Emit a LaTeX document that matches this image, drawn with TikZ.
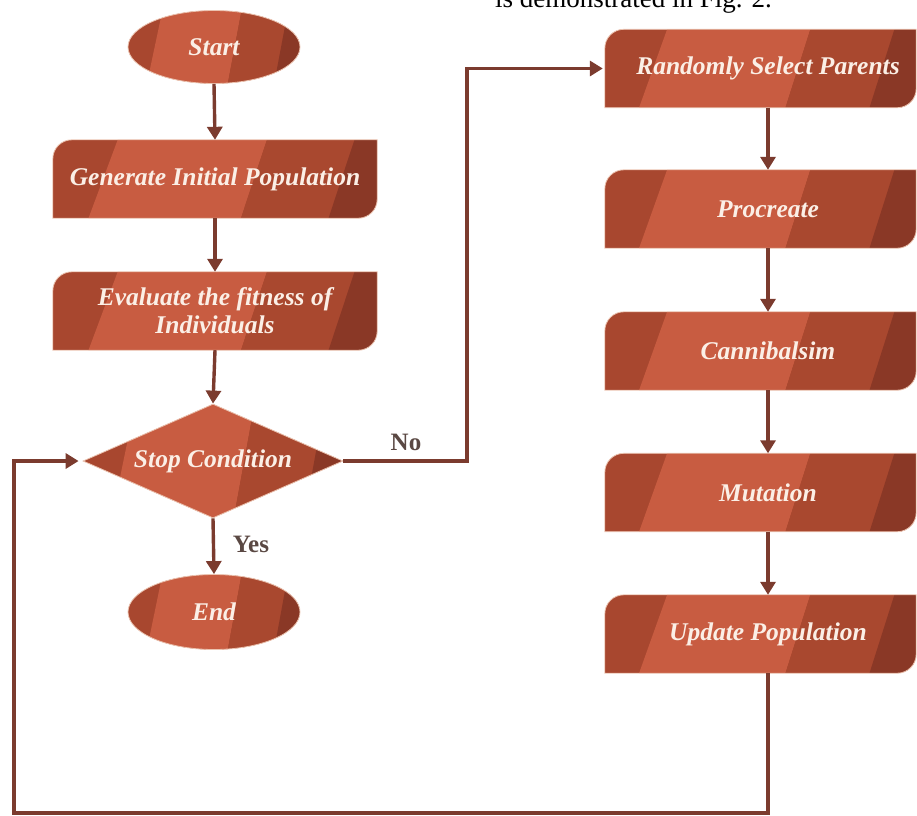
\documentclass[tikz,border=0pt]{standalone}
\usepackage{fontspec}
\setmainfont{Liberation Serif}
\usetikzlibrary{shapes.geometric,calc,arrows.meta}
\pgfdeclarelayer{bg}
\pgfsetlayers{bg,main}
\definecolor{bandA}{HTML}{A8472F}
\definecolor{bandL}{HTML}{C85C41}
\definecolor{bandM}{HTML}{A9482F}
\definecolor{bandD}{HTML}{8A3826}
\definecolor{edgec}{HTML}{EBC3B0}
\definecolor{linec}{HTML}{7B3B2E}
\definecolor{txtc}{HTML}{FBEFE6}
\definecolor{lblc}{HTML}{5A4843}
\newcommand\bands[2]{%
  \coordinate (bl) at (#1); \coordinate (tr) at (#2);
  \coordinate (br) at (bl -| tr); \coordinate (tl) at (bl |- tr);
  \fill[bandA] (bl) rectangle (tr);
  \fill[bandL] ($(bl)!0.11!(br)$) -- ($(tl)!0.20!(tr)$) -- ($(tl)!0.66!(tr)$) -- ($(bl)!0.58!(br)$) -- cycle;
  \fill[bandM] ($(bl)!0.58!(br)$) -- ($(tl)!0.66!(tr)$) -- ($(tl)!0.93!(tr)$) -- ($(bl)!0.85!(br)$) -- cycle;
  \fill[bandD] ($(bl)!0.85!(br)$) -- ($(tl)!0.93!(tr)$) -- (tr) -- (br) -- cycle;}
\newcommand\boxbg[1]{%
  \begin{pgfonlayer}{bg}
  \begin{scope}
    \clip (#1.south west) -- ([yshift=-19pt]#1.north west) arc[start angle=180,end angle=90,radius=19pt] -- (#1.north east) -- ([yshift=19pt]#1.south east) arc[start angle=0,end angle=-90,radius=19pt] -- cycle;
    \bands{#1.south west}{#1.north east}
  \end{scope}
  \draw[edgec,line width=0.8pt] (#1.south west) -- ([yshift=-19pt]#1.north west) arc[start angle=180,end angle=90,radius=19pt] -- (#1.north east) -- ([yshift=19pt]#1.south east) arc[start angle=0,end angle=-90,radius=19pt] -- cycle;
  \end{pgfonlayer}}
\newcommand\rt[1]{\hspace*{15pt}#1}
\tikzset{
  x=1pt, y=1pt,
  txtfont/.style={text=txtc, font=\bfseries\itshape\fontsize{25.5}{28}\selectfont, align=center},
  procbox/.style={txtfont, rectangle, inner sep=0pt, minimum width=324pt, minimum height=78pt},
  rproc/.style={procbox, minimum width=311pt},
  oval/.style={txtfont, ellipse, inner sep=0pt, minimum width=172pt, minimum height=73pt,
    draw=edgec, line width=0.8pt,
    path picture={\bands{path picture bounding box.south west}{path picture bounding box.north east}}},
  decision/.style={txtfont, diamond, inner sep=0pt, aspect=2.28, minimum width=260pt, minimum height=114pt,
    draw=edgec, line width=0.8pt,
    path picture={\bands{path picture bounding box.south west}{path picture bounding box.north east}}},
  arr/.style={draw=linec, line width=3.4pt, -{Triangle[length=13pt,width=15pt]}},
  lbl/.style={text=lblc, font=\bfseries\fontsize{25}{28}\selectfont},
}
\begin{document}
\begin{tikzpicture}
\useasboundingbox (0,0) rectangle (917,-815);
\clip (0,0) rectangle (917,-815);

\node[font=\fontsize{27}{30}\selectfont, anchor=base west, inner sep=0pt] (cap) at (495,-7) {is demonstrated in Fig. 2.};

\node[oval] (start) at (214,-47) {Start};
\node[procbox] (gen) at (215,-179) {Generate Initial Population};
\boxbg{gen}
\node[procbox] (eval) at (215,-311) {Evaluate the fitness of\\Individuals};
\boxbg{eval}
\node[decision] (stop) at (213,-461) {Stop Condition};
\node[oval, minimum height=75pt] (end) at (214,-612) {End};

\node[rproc] (rand) at (760.5,-68.5) {\rt{Randomly Select Parents}};
\boxbg{rand}
\node[rproc] (proc) at (760.5,-209) {\rt{Procreate}};
\boxbg{proc}
\node[rproc] (cann) at (760.5,-351) {\rt{Cannibalsim}};
\boxbg{cann}
\node[rproc] (mut) at (760.5,-492.5) {\rt{Mutation}};
\boxbg{mut}
\node[rproc] (upd) at (760.5,-634) {\rt{Update Population}};
\boxbg{upd}

\coordinate (nx) at (467,0);
\coordinate (bx) at (14,-813);

\draw[arr] (start.south) -- (gen.north);
\draw[arr] (gen.south) -- (eval.north);
\draw[arr] (eval.south) -- (stop.north);
\draw[arr] (stop.south) -- (end.north);
\node[lbl] (yes) at (251,-544) {Yes};

\draw[arr] (stop.east) -- (stop.east -| nx) -- (nx |- rand.west) -- ([xshift=-2pt]rand.west);
\node[lbl] (no) at (406,-442) {No};

\draw[arr] ([xshift=7.5pt]rand.south) -- ([xshift=7.5pt]proc.north);
\draw[arr] ([xshift=7.5pt]proc.south) -- ([xshift=7.5pt]cann.north);
\draw[arr] ([xshift=7.5pt]cann.south) -- ([xshift=7.5pt]mut.north);
\draw[arr] ([xshift=7.5pt]mut.south) -- ([xshift=7.5pt]upd.north);
\draw[arr] ([xshift=7.5pt]upd.south) -- ([xshift=7.5pt]upd.south |- bx) -- (bx) -- (bx |- stop.west) -- ([xshift=-4pt]stop.west);
\end{tikzpicture}
\end{document}
